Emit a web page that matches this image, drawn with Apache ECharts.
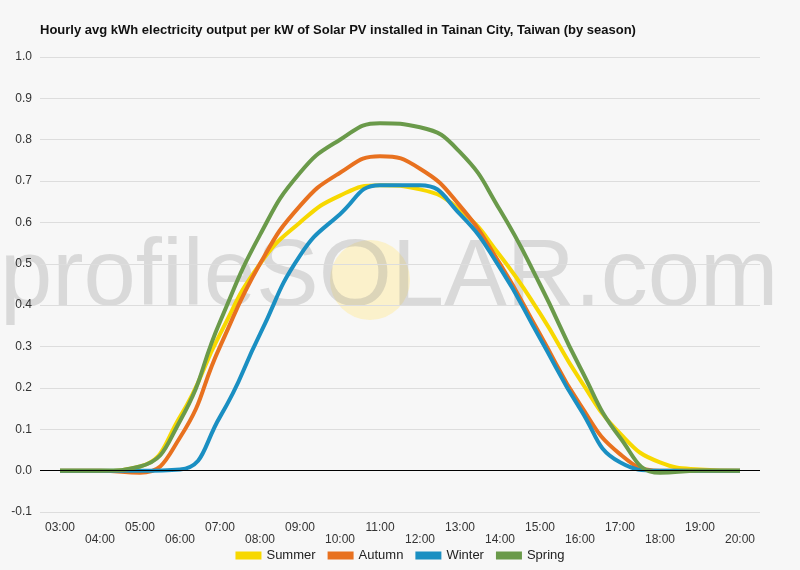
<!DOCTYPE html>
<html>
<head>
<meta charset="utf-8">
<script src="https://cdn.jsdelivr.net/npm/echarts@6/dist/echarts.min.js"></script>
<style>html,body{margin:0;background:#f7f7f7}#c{width:800px;height:570px}</style>
</head>
<body>
<div id="c"></div>
<script>
const hours = ['03:00','04:00','05:00','06:00','07:00','08:00','09:00','10:00','11:00','12:00','13:00','14:00','15:00','16:00','17:00','18:00','19:00','20:00'];
const summer = [0,0,0.01,0.13,0.33,0.5,0.6,0.665,0.69,0.68,0.63,0.52,0.38,0.22,0.09,0.02,0.003,0];
const autumn = [0,0,-0.005,0.08,0.3,0.5,0.64,0.72,0.76,0.73,0.64,0.5,0.33,0.16,0.04,0,0,0];
const winter = [0,0,0,0.003,0.13,0.33,0.52,0.62,0.69,0.69,0.62,0.49,0.32,0.15,0.02,0,0,0];
const spring = [0,0,0.01,0.12,0.36,0.57,0.72,0.8,0.84,0.83,0.77,0.63,0.45,0.25,0.08,-0.005,0,0];

const chart = echarts.init(document.getElementById('c'));
const mk = (name, data, color) => ({
  name, type: 'line', data, smooth: 0.5, symbol: 'none',
  lineStyle: { width: 4, color }, itemStyle: { color }
});
chart.setOption({
  backgroundColor: '#f7f7f7',
  title: { text: 'Hourly avg kWh electricity output per kW of Solar PV installed in Tainan City, Taiwan (by season)',
    left: 35, top: 19, textStyle: { fontSize: 13, fontWeight: 'bold', color: '#111', fontFamily: 'Arial' } },
  graphic: [
    { type: 'circle', shape: { cx: 370, cy: 280, r: 40 }, style: { fill: 'rgba(255,235,160,0.5)' }, z: 0 },
    { type: 'text', left: 0, top: 232, z: 0,
      style: { text: 'profileSOLAR.com', fontSize: 94, fontFamily: 'Arial', fill: 'rgba(140,140,140,0.28)' } }
  ],
  legend: { bottom: 3, itemWidth: 26, itemHeight: 8, icon: 'rect', itemGap: 12,
    textStyle: { fontSize: 13, color: '#222', fontFamily: 'Arial' } },
  grid: { left: 40, right: 40, top: 57, bottom: 58 },
  xAxis: {
    type: 'category', data: hours, boundaryGap: true,
    axisLine: { show: false }, axisTick: { show: false },
    axisLabel: { interval: 0, color: '#333', fontSize: 12, fontFamily: 'Arial', margin: 10,
      formatter: (v, i) => i % 2 ? '\n' + v : v }
  },
  yAxis: {
    type: 'value', min: -0.1, max: 1.0, interval: 0.1,
    axisLabel: { color: '#333', fontSize: 12, fontFamily: 'Arial', formatter: v => v.toFixed(1) },
    splitLine: { lineStyle: { color: '#ddd' } }
  },
  series: [
    mk('Summer', summer, '#f7d800'),
    mk('Autumn', autumn, '#e8711f'),
    mk('Winter', winter, '#1a8fc2'),
    Object.assign(mk('Spring', spring, '#6a9a4a'), {
      markLine: { silent: true, symbol: 'none', label: { show: false },
        lineStyle: { color: '#000', width: 1, type: 'solid' }, data: [{ yAxis: 0 }] }
    })
  ]
});
</script>
</body>
</html>
